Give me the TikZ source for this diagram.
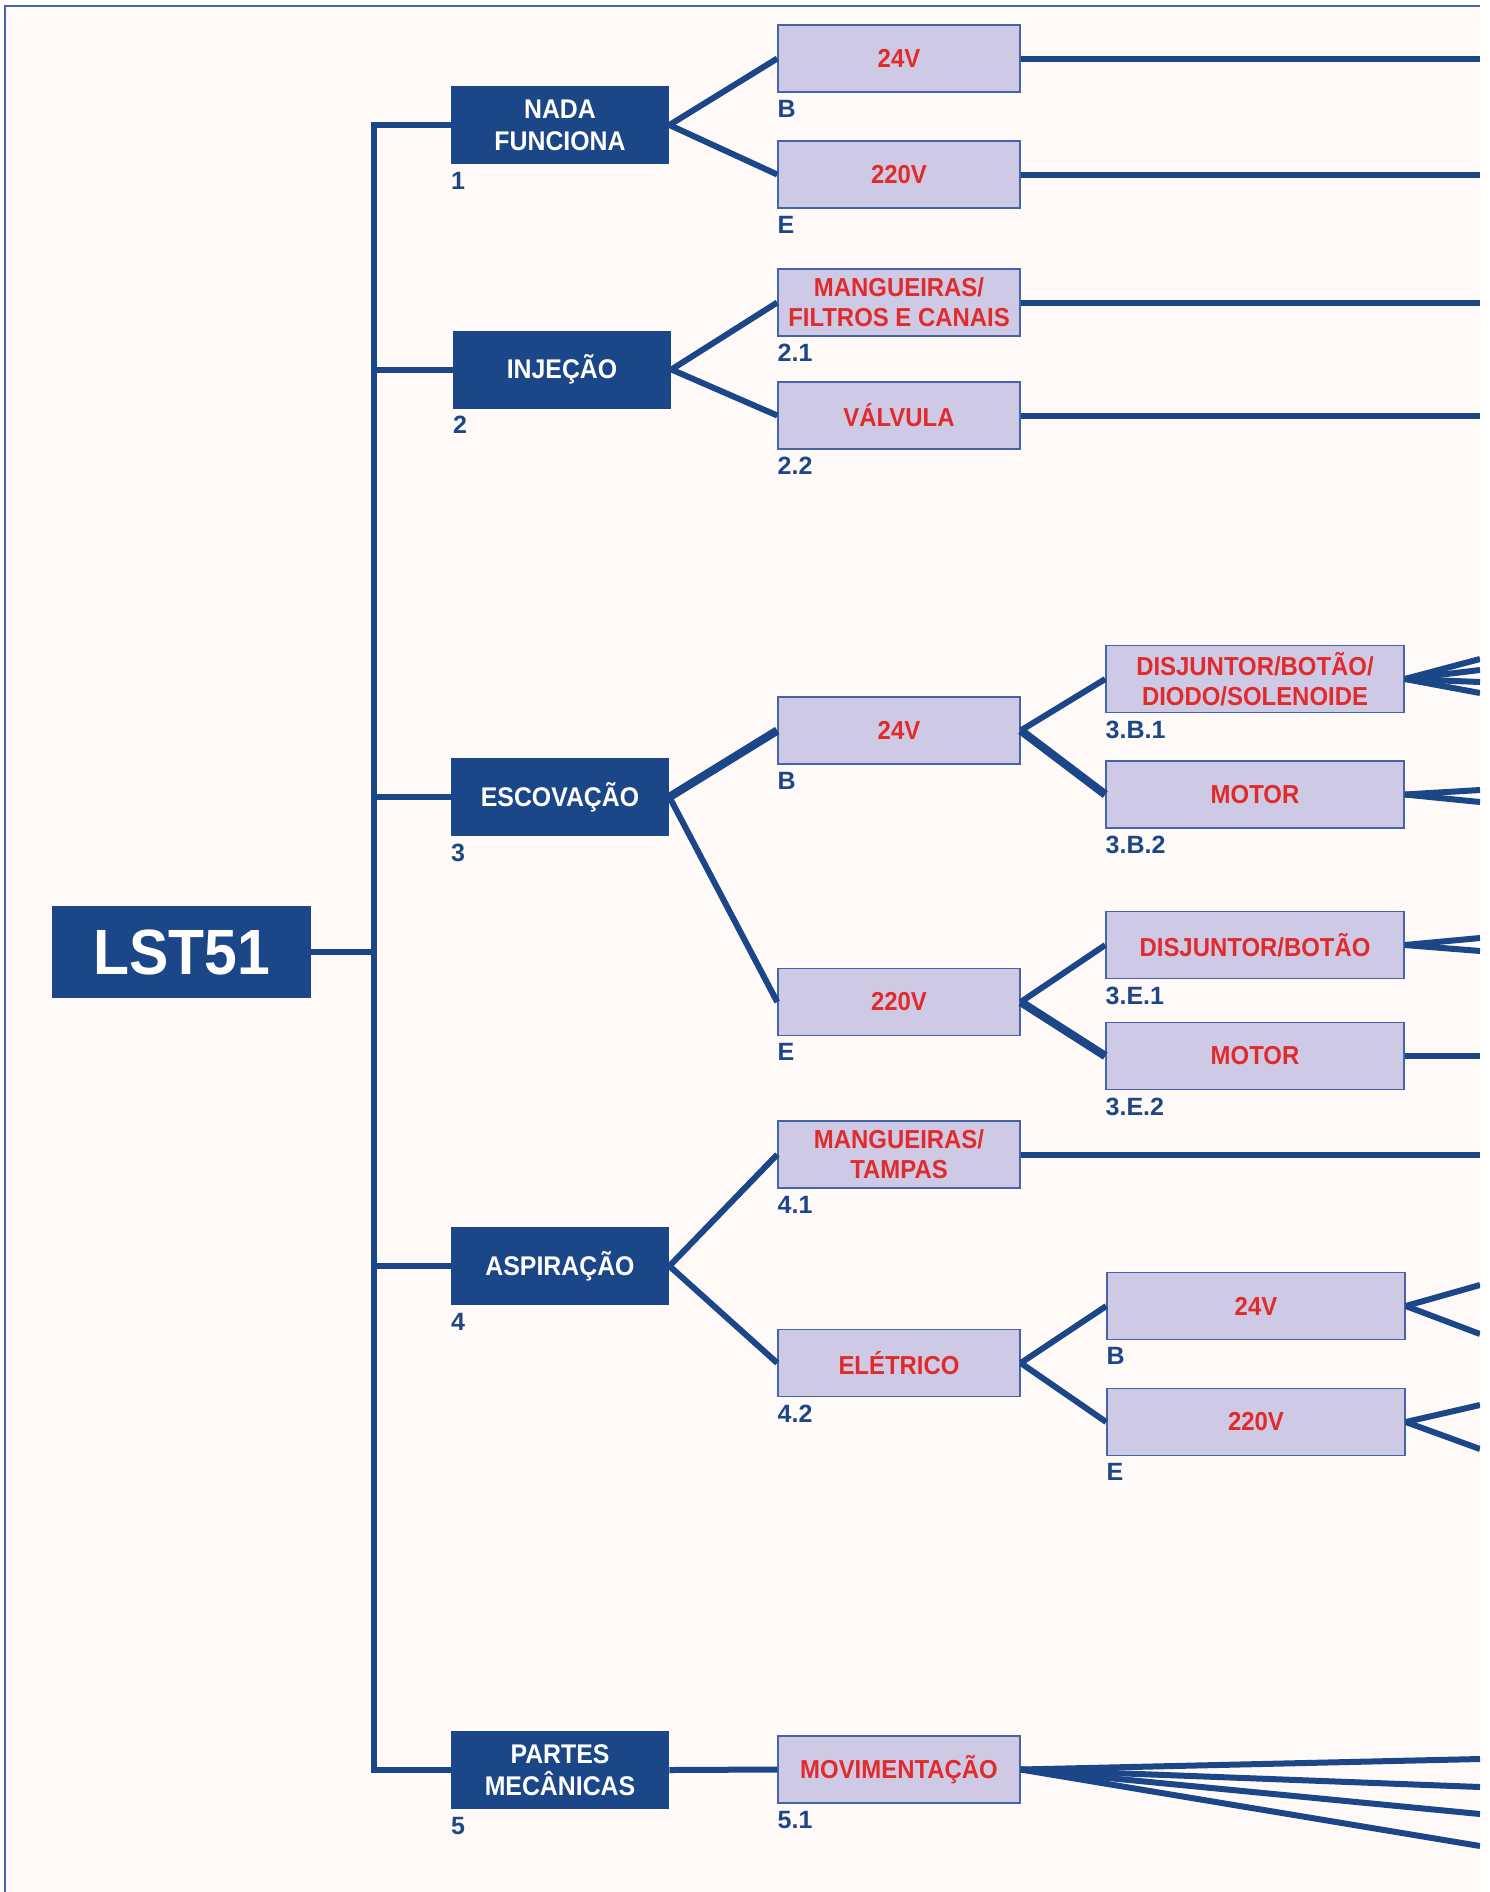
\documentclass[tikz,border=0pt]{standalone}
\usepackage{fontspec}
\setmainfont{Liberation Sans}
\newfontfamily\boxfont[FakeStretch=0.92]{Liberation Sans}
\usepackage{xcolor}
\usepackage{tikz}

\definecolor{lstblue}{HTML}{1B4789}
\definecolor{lstlilac}{HTML}{CECAE6}
\definecolor{lstred}{HTML}{E12A2A}
\definecolor{lstpaper}{HTML}{FFFAF7}
\definecolor{lstedge}{HTML}{4466A8}

\tikzset{
 root/.style={fill=lstblue, text=white, inner sep=0pt,
   minimum width=129.5pt, minimum height=46pt,
   font=\boxfont\bfseries\fontsize{32}{36}\selectfont},
 group/.style={fill=lstblue, text=white, inner sep=0pt, align=center,
   minimum width=109pt, minimum height=39pt,
   font=\boxfont\bfseries\fontsize{13.5}{16}\selectfont},
 part/.style={fill=lstlilac, draw=lstedge, line width=0.75pt, text=lstred,
   inner sep=0pt, align=center, minimum width=121pt, minimum height=33.5pt,
   font=\boxfont\bfseries\fontsize{13}{15}\selectfont},
 detail/.style={part, minimum width=149pt},
 tag/.style={text=lstblue, inner sep=0pt, anchor=north west, yshift=-3.5pt,
   font=\bfseries\fontsize{12.5}{14}\selectfont},
 wire/.style={draw=lstblue, line width=3pt},
}

\begin{document}
\begin{tikzpicture}[x=0.5pt,y=-0.5pt]
 \useasboundingbox (0,0) rectangle (1490,1892);
 \fill[white] (0,0) rectangle (1490,1892);
 \fill[lstpaper] (5,6) rectangle (1480,1892);
 \draw[lstedge, line width=1pt] (5,1892) -- (5,6) -- (1480,6);

 \node[root] (lst) at (181.5,952) {LST51};

 \node[group, label={[tag]south west:1}] (1) at (560,125) {NADA\\FUNCIONA};
 \node[group, label={[tag]south west:2}] (2) at (562,369.5) {INJEÇÃO};
 \node[group, label={[tag]south west:3}] (3) at (560,797) {ESCOVAÇÃO};
 \node[group, label={[tag]south west:4}] (4) at (560,1266) {ASPIRAÇÃO};
 \node[group, label={[tag]south west:5}] (5) at (560,1770) {PARTES\\MECÂNICAS};

 \node[part, label={[tag]south west:B}] (1B) at (899,58.5) {24V};
 \node[part, label={[tag]south west:E}] (1E) at (899,174.5) {220V};
 \node[part, label={[tag]south west:2.1}] (21) at (899,302.5) {MANGUEIRAS/\\FILTROS E CANAIS};
 \node[part, label={[tag]south west:2.2}] (22) at (899,415.5) {VÁLVULA};
 \node[part, label={[tag]south west:B}] (3B) at (899,730.5) {24V};
 \node[part, label={[tag]south west:E}] (3E) at (899,1002) {220V};
 \node[part, label={[tag]south west:4.1}] (41) at (899,1154.5) {MANGUEIRAS/\\TAMPAS};
 \node[part, label={[tag]south west:4.2}] (42) at (899,1363) {ELÉTRICO};
 \node[part, label={[tag]south west:5.1}] (51) at (899,1769.5) {MOVIMENTAÇÃO};

 \node[detail, label={[tag]south west:3.B.1}] (3B1) at (1255,679) {DISJUNTOR/BOTÃO/\\DIODO/SOLENOIDE};
 \node[detail, label={[tag]south west:3.B.2}] (3B2) at (1255,794.5) {MOTOR};
 \node[detail, label={[tag]south west:3.E.1}] (3E1) at (1255,945) {DISJUNTOR/BOTÃO};
 \node[detail, label={[tag]south west:3.E.2}] (3E2) at (1255,1056) {MOTOR};
 \node[detail, label={[tag]south west:B}] (42B) at (1256,1306) {24V};
 \node[detail, label={[tag]south west:E}] (42E) at (1256,1422) {220V};

 \begin{scope}
 \clip (5,6) rectangle (1480,1892);
 % trunk
 \coordinate (hub) at (374,952);
 \draw[wire] (lst.east) -- (hub);
 \foreach \g in {1,...,5}
   \draw[wire] (hub) |- (\g.west);

 \path[wire]
 (1.east)
 edge (1B.west)
 edge (1E.west)
 (2.east)
 edge (21.west)
 edge (22.west)
 (3.east)
 edge [line width=4.2pt] (3B.west)
 edge (3E.west)
 (3B.east)
 edge (3B1.west)
 edge [line width=4.2pt] (3B2.west)
 (3E.east)
 edge (3E1.west)
 edge [line width=4.2pt] (3E2.west)
 (4.east)
 edge (41.west)
 edge (42.west)
 (42.east)
 edge (42B.west)
 edge (42E.west)
 (5.east) edge (51.west);

 % loose ends at the right border
 \foreach \n/\y in {1B/58.5,1E/174.5,21/302.5,22/415.5,41/1154.5,3E2/1056}{
   \coordinate (\n-0) at (1480,\y);
   \draw[wire] (\n.east) -- (\n-0);
 }
 \foreach \n/\ys in {3B1/{659,670,682,693},3B2/{790,802},3E1/{938,951},
                     42B/{1285,1334},42E/{1405,1449},51/{1759,1787,1814,1846}}{
   \foreach \y [count=\i] in \ys {
     \coordinate (\n-\i) at (1480,\y);
     \draw[wire] (\n.east) -- (\n-\i);
   }
 }
 \end{scope}
\end{tikzpicture}
\end{document}
